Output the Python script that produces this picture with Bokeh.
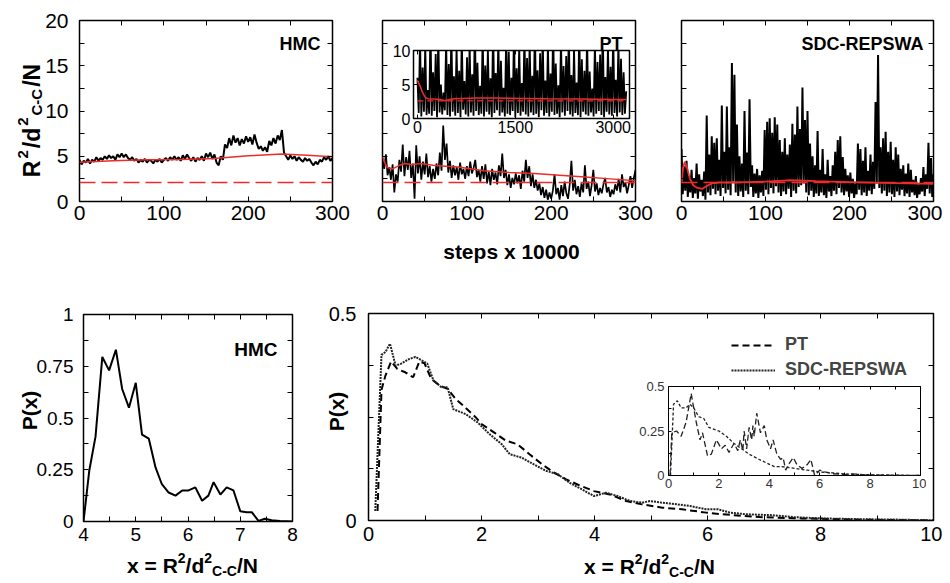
import math
from bokeh.plotting import figure
from bokeh.models import (Range1d, FixedTicker, LinearAxis, Label, Legend, LegendItem)
from bokeh.embed import file_html
from bokeh.resources import INLINE

FONT = "Liberation Sans"
RED = "#ee2b2b"

# ---------------- data: top row (time series) ----------------
step_ticks = [0, 100, 200, 300]
step_tick_labels = ["0", "100", "200", "300"]
step_minor = [50, 150, 250]
r2_ticks = [0, 5, 10, 15, 20]
r2_tick_labels = ["0", "5", "10", "15", "20"]
r2_minor = [2.5, 7.5, 12.5, 17.5]

hmc_steps = [i * 2.5 for i in range(121)]
hmc_r2 = [4.6, 4.1, 4.5, 4.3, 4.7, 4.2, 4.6, 4.4, 4.9, 4.5,
          4.8, 4.6, 5.0, 4.7, 5.1, 4.8, 5.0, 4.6, 5.2, 4.9,
          5.3, 4.9, 5.2, 4.8, 4.6, 4.9, 4.5, 4.7, 4.3, 4.6,
          4.4, 4.7, 4.3, 4.6, 4.5, 4.2, 4.6, 4.4, 4.7, 4.3,
          4.6, 4.8, 4.5, 4.9, 4.6, 5.0, 4.6, 4.9, 4.5, 5.1,
          4.7, 5.2, 4.8, 4.5, 4.9, 4.4, 4.8, 4.6, 5.0, 4.5,
          5.3, 4.9, 5.4, 4.7, 5.2, 4.3, 4.0, 5.0, 4.6, 6.3,
          5.9, 7.0, 6.2, 7.3, 6.5, 7.0, 6.2, 6.9, 6.4, 7.2,
          6.6, 7.1, 6.3, 7.4, 6.5, 5.8, 6.1, 5.6, 6.0, 5.5,
          6.7, 6.2, 7.0, 6.4, 7.3, 6.8, 7.9, 5.4, 5.0, 4.6,
          5.1, 4.7, 5.0, 4.5, 4.9, 4.6, 4.4, 4.8, 4.5, 4.7,
          4.3, 4.0, 4.4, 4.1, 4.6, 4.4, 4.9, 4.6, 5.0, 4.5,
          4.8]
hmc_avg_steps = [0, 40, 80, 120, 160, 200, 240, 270, 300]
hmc_avg = [4.35, 4.5, 4.6, 4.65, 4.75, 5.05, 5.25, 5.1, 4.95]
ref_steps = [0, 300]
ref_level = [2.1, 2.1]

pt_steps = [i * 2 for i in range(151)]
pt_r2 = [4.8, 3.6, 5.2, 2.9, 3.8, 2.4, 4.1, 1.0, 3.0, 2.2,
         4.6, 3.3, 6.3, 2.8, 4.9, 3.5, 5.6, 2.6, 4.2, 0.3,
         6.2, 3.1, 5.0, 2.4, 4.4, 3.0, 5.3, 2.7, 3.9, 2.2,
         3.6, 2.5, 4.2, 2.9, 5.4, 3.4, 8.4, 4.6, 6.4, 3.2,
         4.5, 2.6, 4.0, 2.9, 3.8, 2.4, 4.3, 3.0, 3.6, 2.5,
         3.9, 2.8, 4.4, 3.1, 3.7, 4.6, 2.7, 3.5, 2.2, 3.9,
         2.5, 4.1, 2.0, 3.3, 1.8, 3.6, 2.4, 3.2, 1.9, 4.0,
         2.8, 5.3, 2.6, 3.5, 1.8, 3.0, 1.5, 2.6, 1.9, 3.1,
         2.0, 2.9, 1.4, 3.4, 2.2, 4.6, 2.6, 3.9, 1.7, 3.0,
         1.5, 2.4, 1.2, 2.0, 0.7, 1.6, 0.4, 1.3, 0.2, 1.0,
         0.3, 1.2, 3.0, 0.8, 1.5, 0.2, 1.8, 0.6, 2.2, 0.9,
         0.3, 1.9, 4.5, 1.2, 2.4, 0.8, 1.7, 0.5, 2.0, 1.0,
         4.0, 1.4, 2.2, 0.6, 1.8, 3.5, 1.1, 2.0, 0.7, 1.5,
         0.9, 1.9, 2.6, 1.0, 1.6, 0.5, 1.3, 0.8, 1.9, 1.2,
         2.5, 1.0, 3.0, 1.6, 2.1, 0.9, 1.8, 2.8, 1.5, 2.6,
         3.5]
pt_avg_steps = [0, 5, 12, 20, 27, 35, 45, 60, 75, 90, 120, 150, 180, 210, 240, 270, 300]
pt_avg = [4.9, 3.8, 3.6, 4.0, 4.2, 4.05, 4.2, 4.0, 3.9, 3.8, 3.4, 3.2, 3.1, 2.9, 2.7, 2.5, 2.3]

sdc_steps = [i * 1.5 for i in range(201)]
sdc_r2 = [5.8, 0.8, 3.9, 1.2, 4.5, 0.5, 2.8, 1.0, 3.5, 0.4,
          2.6, 0.9, 4.2, 0.3, 3.0, 1.1, 2.4, 0.6, 3.3, 0.2,
          9.5, 1.0, 5.2, 0.7, 7.2, 1.4, 6.5, 0.8, 7.0, 1.2,
          4.6, 0.6, 10.6, 1.5, 5.5, 0.9, 10.5, 1.3, 6.0, 0.7,
          15.3, 2.2, 14.0, 1.0, 8.5, 0.6, 5.0, 1.1, 4.2, 0.5,
          10.0, 1.2, 5.4, 0.8, 11.3, 1.6, 4.0, 0.5, 3.1, 0.9,
          3.6, 0.4, 2.9, 1.0, 3.4, 0.6, 7.9, 1.3, 8.8, 0.8,
          9.2, 1.5, 7.6, 0.9, 9.3, 1.7, 8.5, 1.0, 6.8, 0.6,
          5.5, 1.1, 7.0, 0.8, 5.2, 1.4, 6.3, 0.5, 8.6, 1.2,
          7.4, 0.9, 10.5, 1.6, 8.0, 1.8, 12.6, 2.0, 9.0, 1.0,
          10.0, 0.7, 6.4, 1.2, 5.0, 0.5, 4.0, 0.9, 7.8, 0.6,
          3.5, 1.0, 5.8, 0.7, 3.0, 0.4, 4.6, 1.1, 2.8, 0.6,
          4.0, 1.2, 5.5, 0.8, 6.8, 1.5, 7.2, 1.0, 4.9, 0.7,
          3.6, 1.1, 2.9, 0.5, 3.2, 0.9, 2.5, 0.4, 2.0, 0.8,
          6.4, 1.3, 5.8, 0.7, 4.5, 1.0, 6.0, 0.6, 3.4, 1.2,
          5.2, 0.8, 4.4, 1.4, 11.0, 2.0, 16.2, 1.5, 6.0, 0.9,
          7.0, 1.2, 7.7, 0.6, 5.5, 1.0, 6.6, 0.8, 4.6, 0.5,
          6.0, 1.1, 5.2, 0.7, 3.6, 1.3, 4.0, 0.6, 3.1, 0.9,
          4.2, 0.5, 3.5, 1.0, 2.4, 0.7, 2.8, 0.4, 1.9, 0.8,
          2.6, 1.1, 3.8, 0.6, 3.0, 1.4, 6.5, 0.9, 4.8, 0.5,
          3.0]
sdc_avg_steps = [0, 2, 4, 7, 10, 14, 19, 25, 30, 36, 45, 60, 80, 100, 130, 160, 200, 240, 270, 300]
sdc_avg = [2.0, 3.8, 4.4, 3.6, 2.5, 1.8, 1.5, 1.4, 1.7, 2.0, 2.1, 2.1, 2.15, 2.2, 2.35, 2.25, 2.15, 2.05, 2.0, 1.95]

# PT inset (long run)
pti_ticks = [0, 1500, 3000]
pti_tick_labels = ["0", "1500", "3000"]
pti_yticks = [0, 5, 10]
pti_ytick_labels = ["0", "5", "10"]
pti_steps = [i * 20 for i in range(161)]
pti_r2 = [6.0, 0.8, 12.0, 0.3, 7.5, 1.0, 11.0, 0.5, 4.2, 0.7,
          14.0, 0.4, 6.8, 1.1, 9.5, 0.2, 12.5, 0.9, 5.0, 0.6,
          3.8, 1.2, 11.5, 0.5, 8.0, 0.3, 13.0, 1.0, 6.2, 0.4,
          10.5, 0.8, 7.0, 0.2, 12.0, 1.3, 5.5, 0.6, 9.0, 0.3,
          11.0, 0.9, 6.5, 0.4, 14.0, 1.1, 8.2, 0.5, 4.8, 0.7,
          12.5, 0.3, 7.8, 1.0, 10.2, 0.6, 5.9, 0.2, 13.5, 0.8,
          6.7, 1.2, 11.8, 0.4, 8.5, 0.9, 4.5, 0.3, 12.2, 0.7,
          9.8, 0.5, 6.0, 1.1, 13.0, 0.2, 7.4, 0.8, 10.8, 0.4,
          5.2, 1.0, 12.7, 0.6, 8.9, 0.3, 11.3, 0.9, 6.3, 0.5,
          14.0, 0.7, 7.1, 0.2, 9.6, 1.2, 12.4, 0.4, 5.6, 0.8,
          10.9, 0.3, 6.6, 1.0, 13.6, 0.5, 8.1, 0.7, 4.9, 0.2,
          11.7, 0.9, 7.7, 0.4, 9.2, 1.1, 12.9, 0.6, 6.4, 0.3,
          10.4, 0.8, 5.3, 0.5, 13.2, 0.2, 8.7, 1.0, 7.0, 0.6,
          12.1, 0.4, 6.9, 0.9, 4.4, 0.3, 11.2, 0.7, 8.3, 1.1,
          9.4, 0.5, 13.8, 0.2, 6.1, 1.0, 10.6, 0.6, 7.6, 0.4,
          12.6, 0.8, 5.7, 0.3, 11.4, 0.9, 8.8, 0.5, 6.8, 0.7,
          4.0]
pti_avg_steps = [0, 40, 80, 120, 160, 250, 350, 420, 480, 560, 700, 900, 1200, 1600, 2000, 2500, 3000, 3200]
pti_avg = [5.6, 4.8, 3.8, 3.1, 2.9, 2.85, 2.8, 2.6, 2.75, 2.9, 2.95, 3.0, 3.0, 2.95, 2.9, 2.85, 2.8, 2.8]
pti_ref_steps = [0, 3200]
pti_ref = [2.6, 2.6]

# ---------------- data: bottom row (distributions) ----------------
hist_hmc_ticks = [4, 5, 6, 7, 8]
hist_hmc_tick_labels = ["4", "5", "6", "7", "8"]
hist_hmc_minor = [4.5, 5.5, 6.5, 7.5]
p_ticks = [0, 0.25, 0.5, 0.75, 1]
p_tick_labels = ["0", "0.25", "0.5", "0.75", "1"]
p_minor = [0.125, 0.375, 0.625, 0.875]

hmc_x = [4.0, 4.11, 4.23, 4.36, 4.49, 4.62, 4.74, 4.87, 5.0, 5.12, 5.25, 5.38, 5.5, 5.63, 5.76, 5.89,
         6.01, 6.14, 6.27, 6.39, 6.49, 6.62, 6.74, 6.87, 7.0, 7.12, 7.22, 7.35, 7.47, 7.6, 7.76, 8.0]
hmc_p = [0.0, 0.245, 0.41, 0.795, 0.73, 0.83, 0.64, 0.55, 0.67, 0.42, 0.40, 0.26, 0.18, 0.14, 0.125, 0.15,
         0.15, 0.165, 0.10, 0.125, 0.19, 0.13, 0.165, 0.15, 0.05, 0.045, 0.045, 0.003, 0.013, 0.006, 0.003, 0.0]

big_xticks = [0, 2, 4, 6, 8, 10]
big_xtick_labels = ["0", "2", "4", "6", "8", "10"]
big_xminor = [1, 3, 5, 7, 9]
big_yticks = [0, 0.5]
big_ytick_labels = ["0", "0.5"]
big_yminor = [0.125, 0.25, 0.375]

pt_x = [0.16, 0.23, 0.3, 0.4, 0.51, 0.65, 0.79, 0.9, 0.99, 1.11, 1.26, 1.4, 1.54, 1.68, 1.9, 2.0, 2.22, 2.43,
        2.64, 2.85, 3.07, 3.28, 3.49, 3.7, 3.99, 4.27, 4.56, 4.84, 5.2, 5.55, 5.98, 6.26, 6.97, 7.68, 8.74, 10.0]
pt_p = [0.023, 0.316, 0.35, 0.384, 0.366, 0.358, 0.346, 0.384, 0.38, 0.342, 0.326, 0.318, 0.294, 0.277, 0.249,
        0.233, 0.213, 0.193, 0.184, 0.16, 0.136, 0.116, 0.1, 0.087, 0.071, 0.063, 0.047, 0.039, 0.031, 0.027,
        0.019, 0.015, 0.008, 0.005, 0.002, 0.0]
sdc_x = [0.12, 0.23, 0.3, 0.38, 0.48, 0.58, 0.72, 0.83, 0.94, 1.04, 1.15, 1.29, 1.4, 1.5, 1.72, 1.93, 2.14,
         2.36, 2.5, 2.71, 2.92, 3.14, 3.35, 3.56, 3.78, 3.99, 4.2, 4.41, 4.63, 4.84, 4.98, 5.2, 5.41, 5.69,
         5.98, 6.19, 6.4, 6.69, 7.11, 7.54, 8.04, 8.74, 9.45, 10.0]
sdc_p = [0.023, 0.4, 0.407, 0.427, 0.374, 0.379, 0.39, 0.395, 0.387, 0.379, 0.338, 0.322, 0.322, 0.269,
         0.257, 0.237, 0.209, 0.184, 0.16, 0.152, 0.136, 0.12, 0.112, 0.091, 0.075, 0.059, 0.067, 0.059,
         0.047, 0.043, 0.047, 0.043, 0.04, 0.035, 0.027, 0.027, 0.019, 0.015, 0.013, 0.008, 0.005, 0.003,
         0.002, 0.0]

ins_yticks = [0, 0.25, 0.5]
ins_ytick_labels = ["0", "0.25", "0.5"]
ins_yminor = [0.125, 0.375]
ia_x = [0.06, 0.13, 0.32, 0.5, 0.7, 0.9, 1.0, 1.1, 1.25, 1.35, 1.55, 1.7, 1.9, 2.1, 2.25, 2.4, 2.6, 2.75,
        2.85, 2.95, 3.0, 3.1, 3.2, 3.3, 3.35, 3.4, 3.5, 3.65, 3.8, 3.9, 4.05, 4.15, 4.3, 4.45, 4.55, 4.65,
        4.8, 4.95, 5.1, 5.3, 5.5, 5.65, 5.8, 6.0, 6.2, 6.5, 7.0, 7.2, 8.0, 9.0, 10.0]
ia_p = [0.0, 0.24, 0.25, 0.22, 0.3, 0.46, 0.38, 0.3, 0.2, 0.24, 0.11, 0.12, 0.2, 0.15, 0.17, 0.13, 0.18,
        0.14, 0.2, 0.14, 0.25, 0.15, 0.27, 0.2, 0.28, 0.22, 0.35, 0.24, 0.28, 0.2, 0.15, 0.2, 0.12, 0.09,
        0.1, 0.03, 0.07, 0.1, 0.06, 0.04, 0.06, 0.09, 0.0, 0.03, 0.02, 0.01, 0.005, 0.01, 0.002, 0.001, 0.0]
ib_x = [0.08, 0.2, 0.35, 0.5, 0.7, 0.85, 1.0, 1.2, 1.4, 1.6, 2.0, 2.3, 2.6, 2.9, 3.2, 3.6, 3.9, 4.2, 4.5,
        5.0, 5.5, 6.0, 6.5, 7.0, 8.0, 9.0, 10.0]
ib_p = [0.0, 0.4, 0.42, 0.38, 0.38, 0.4, 0.38, 0.33, 0.32, 0.27, 0.25, 0.22, 0.18, 0.15, 0.12, 0.09, 0.07,
        0.05, 0.05, 0.04, 0.03, 0.02, 0.015, 0.008, 0.004, 0.002, 0.0]

# ---------------- helpers ----------------
BOLD_W = {" ": .278, "x": .556, "=": .584, "R": .722, "2": .556, "/": .278, "d": .611,
          "C": .722, "-": .333, "N": .722}


def make_fig(x, y, w, h, fl, fr, ft, fb, xr, yr):
    # x, y: screen position of the canvas; fl..fb: screen edges of the frame
    p = figure(width=w, height=h, x_range=Range1d(*xr), y_range=Range1d(*yr),
               output_backend="svg", toolbar_location=None,
               min_border_left=fl - x, min_border_right=(x + w) - fr,
               min_border_top=ft - y, min_border_bottom=(y + h) - fb)
    p.styles = {"position": "absolute", "left": f"{x}px", "top": f"{y}px"}
    p.grid.visible = False
    p.outline_line_color = "black"
    p.outline_line_width = 1.5
    p.background_fill_color = "white"
    p.border_fill_color = None
    return p


def setup_axes(p, xt, xl, xm, yt, yl, ym, fs, show_x=True, show_y=True,
               x_std=4, y_std=10, tick=5, color="black"):
    bottom = p.below[0]
    left = p.left[0]
    top = LinearAxis()
    right = LinearAxis()
    p.add_layout(top, "above")
    p.add_layout(right, "right")
    for ax, t, lab, m in ((bottom, xt, xl, xm), (top, xt, xl, xm),
                          (left, yt, yl, ym), (right, yt, yl, ym)):
        ax.ticker = FixedTicker(ticks=t, minor_ticks=m)
        ax.major_label_overrides = dict(zip(t, lab))
        ax.axis_line_color = None
        ax.major_tick_in = tick
        ax.major_tick_out = 0
        ax.minor_tick_in = tick
        ax.minor_tick_out = 0
        ax.major_tick_line_color = "black"
        ax.minor_tick_line_color = "black"
        ax.major_label_text_font = FONT
        ax.major_label_text_font_size = f"{fs}px"
        ax.major_label_text_color = color
    bottom.major_label_standoff = x_std
    left.major_label_standoff = y_std
    hidden = [top, right]
    if not show_x:
        hidden.append(bottom)
    if not show_y:
        hidden.append(left)
    for ax in hidden:
        ax.major_label_text_font_size = "1px"
        ax.major_label_text_alpha = 0
        ax.major_label_standoff = 0


# overlay canvas for all free texts (canvas pixels == screen pixels)
ov = figure(width=945, height=580, x_range=Range1d(0, 1), y_range=Range1d(0, 1),
            x_axis_type=None, y_axis_type=None, output_backend="svg", toolbar_location=None,
            min_border=0)
ov.styles = {"position": "absolute", "left": "0px", "top": "0px"}
ov.grid.visible = False
ov.outline_line_color = None
ov.background_fill_color = None
ov.border_fill_color = None


def label(sx, sy, text, size, bold=True, align="left", baseline="alphabetic", angle=0.0, color="black"):
    ov.add_layout(Label(x=sx, y=sy, x_units="canvas", y_units="canvas", text=text,
                        text_font=FONT, text_font_size=f"{size}px",
                        text_font_style="bold" if bold else "normal",
                        text_align=align, text_baseline=baseline, angle=angle, text_color=color))


def compose(pieces, cx, cy, vertical=False, gap=0.0):
    widths = [sum(BOLD_W.get(c, .6) for c in t) * s for t, s, _ in pieces]
    total = sum(widths) + gap * (len(pieces) - 1)
    pos = -total / 2
    for (t, s, shift), w in zip(pieces, widths):
        if vertical:
            label(cx - shift, cy - pos, t, s, angle=math.pi / 2)
        else:
            label(cx + pos, cy - shift, t, s)
        pos += w + gap


# ---------------- top row ----------------
f1 = make_fig(8, 8, 342, 280, 79, 332, 20, 201, (0, 300), (0, 20))
setup_axes(f1, step_ticks, step_tick_labels, step_minor, r2_ticks, r2_tick_labels, r2_minor, 21,
           x_std=4, y_std=11)
f1.line(hmc_steps, hmc_r2, line_color="black", line_width=2)
f1.line(hmc_avg_steps, hmc_avg, line_color=RED, line_width=1.5)
f1.line(ref_steps, ref_level, line_color=RED, line_width=1.5, line_dash="16 6")

f2 = make_fig(350, 8, 305, 280, 382, 635, 20, 201, (0, 300), (0, 20))
setup_axes(f2, step_ticks, step_tick_labels, step_minor, r2_ticks, r2_tick_labels, r2_minor, 21,
           show_y=False, x_std=4)
f2.line(pt_steps, pt_r2, line_color="black", line_width=1.7)
f2.line(pt_avg_steps, pt_avg, line_color=RED, line_width=1.5)
f2.line(ref_steps, ref_level, line_color=RED, line_width=1.5, line_dash="16 6")

f2i = make_fig(385, 44, 250, 100, 413, 629, 50, 118, (-60, 3250), (0, 10))
setup_axes(f2i, pti_ticks, pti_tick_labels, [], pti_yticks, pti_ytick_labels, [], 16,
           x_std=2, y_std=3, tick=4)
f2i.line(pti_steps, pti_r2, line_color="black", line_width=1.8)
f2i.line(pti_ref_steps, pti_ref, line_color=RED, line_width=1.2, line_dash="6 4")
f2i.line(pti_avg_steps, pti_avg, line_color=RED, line_width=1.5)

f3 = make_fig(655, 8, 287, 280, 681, 933, 20, 201, (0, 300), (0, 20))
setup_axes(f3, step_ticks, step_tick_labels, step_minor, r2_ticks, r2_tick_labels, r2_minor, 21,
           show_y=False, x_std=4)
f3.line(sdc_steps, sdc_r2, line_color="black", line_width=2)
f3.line(ref_steps, ref_level, line_color=RED, line_width=1.5, line_dash="16 6")
f3.line(sdc_avg_steps, sdc_avg, line_color=RED, line_width=1.8)

# ---------------- bottom row ----------------
f4 = make_fig(8, 288, 317, 287, 83, 292, 314, 521, (4, 8), (0, 1))
setup_axes(f4, hist_hmc_ticks, hist_hmc_tick_labels, hist_hmc_minor, p_ticks, p_tick_labels, p_minor, 19,
           x_std=6, y_std=10)
f4.line(hmc_x, hmc_p, line_color="black", line_width=2)

f5 = make_fig(325, 288, 617, 287, 368, 933, 313, 520, (0, 10), (0, 0.5))
setup_axes(f5, big_xticks, big_xtick_labels, big_xminor, big_yticks, big_ytick_labels, big_yminor, 20,
           x_std=6, y_std=12)
r_pt = f5.line(pt_x, pt_p, line_color="black", line_width=2, line_dash="7 4")
r_sdc = f5.line(sdc_x, sdc_p, line_color="#222222", line_width=2, line_dash="2 1")
legend = Legend(items=[LegendItem(label="PT", renderers=[r_pt]),
                       LegendItem(label="SDC-REPSWA", renderers=[r_sdc])],
                location=(363, 140), glyph_width=44, glyph_height=20, label_height=20,
                spacing=4, padding=0, margin=0, label_standoff=10,
                border_line_color=None, background_fill_alpha=0,
                label_text_font=FONT, label_text_font_size="18px", label_text_font_style="bold")
f5.add_layout(legend)

f5i = make_fig(636, 380, 290, 115, 662, 920, 386, 475, (0, 10), (0, 0.5))
setup_axes(f5i, big_xticks, big_xtick_labels, big_xminor, ins_yticks, ins_ytick_labels, ins_yminor, 13,
           x_std=3, y_std=4, tick=3, color="#333333")
f5i.outline_line_width = 1
f5i.line(ia_x, ia_p, line_color="#222222", line_width=1.3, line_dash="6 3")
f5i.line(ib_x, ib_p, line_color="#222222", line_width=1.3, line_dash="3 2")

# ---------------- texts ----------------
label(320, 43, "HMC", 18, align="right")
label(622, 43, "PT", 18, align="right")
label(923, 43, "SDC-REPSWA", 18, align="right")
label(511, 251, "steps x 10000", 21, align="center")
compose([("R", 23, 0), ("2", 15, 9), ("/d", 23, 0), ("2", 15, 9), ("C-C", 15, -5), ("/N", 23, 0)],
        31, 120, vertical=True, gap=2)
label(277, 349, "HMC", 19, align="right")
label(29, 410, "P(x)", 21, align="center", baseline="middle", angle=math.pi / 2)
label(336, 411, "P(x)", 21, align="center", baseline="middle", angle=math.pi / 2)
compose([("x = R", 21, 0), ("2", 14, 8), ("/d", 21, 0), ("2", 14, 8), ("C-C", 14, -5), ("/N", 21, 0)],
        192, 565)
compose([("x = R", 21, 0), ("2", 14, 8), ("/d", 21, 0), ("2", 14, 8), ("C-C", 14, -5), ("/N", 21, 0)],
        649, 566)

roots = [f1, f2, f2i, f3, f4, f5, f5i, ov]
open("out.html", "w").write(file_html(roots, INLINE))
